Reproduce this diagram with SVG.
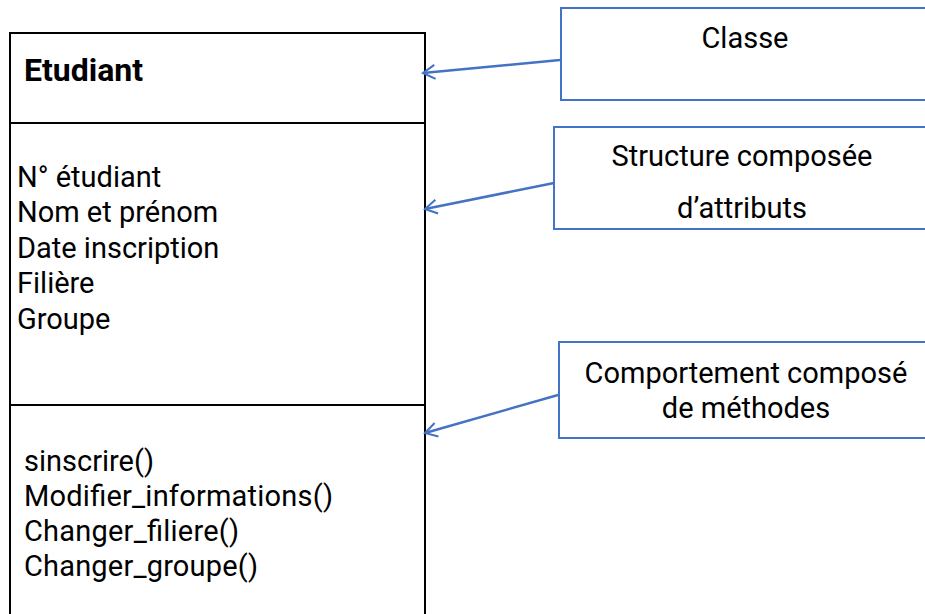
<svg xmlns="http://www.w3.org/2000/svg" width="925" height="614" viewBox="0 0 925 614">
<defs>
<style>
.t{font-family:Roboto,"Liberation Sans",sans-serif;font-size:29px;fill:#000}
.b{font-weight:bold;font-size:32px}
.cls{fill:#fff;stroke:#000;stroke-width:2}
.note{fill:#fff;stroke:#4472C4;stroke-width:2}
.c{fill:none;stroke:#4472C4;stroke-width:2.5}
.m{text-anchor:middle}
</style>
<marker id="ah" markerWidth="16" markerHeight="16" refX="13" refY="8" orient="auto" markerUnits="userSpaceOnUse" overflow="visible">
<path d="M1,1 L13,8 L1,15" fill="none" stroke="#4472C4" stroke-width="2"/>
</marker>
</defs>
<rect width="925" height="614" fill="#fff"/>
<g id="class-etudiant">
<rect class="cls" x="10" y="33" width="415" height="600"/>
<line x1="10" y1="123" x2="425" y2="123" stroke="#000" stroke-width="2"/>
<line x1="10" y1="405" x2="425" y2="405" stroke="#000" stroke-width="2"/>
<text class="t b" x="24" y="81">Etudiant</text>
<text class="t" x="17" y="187">N° étudiant</text>
<text class="t" x="17" y="222">Nom et prénom</text>
<text class="t" x="17" y="258">Date inscription</text>
<text class="t" x="17" y="293">Filière</text>
<text class="t" x="17" y="329">Groupe</text>
<text class="t" x="24" y="471">sinscrire()</text>
<text class="t" x="24" y="506" textLength="309">Modifier_informations()</text>
<text class="t" x="24" y="541" textLength="215">Changer_filiere()</text>
<text class="t" x="24" y="576" textLength="234">Changer_groupe()</text>
</g>
<g id="note-classe">
<rect class="note" x="561" y="8" width="380" height="92"/>
<text class="t m" x="745" y="48">Classe</text>
</g>
<g id="note-structure">
<rect class="note" x="554" y="127" width="387" height="102"/>
<text class="t m" x="742" y="166">Structure composée</text>
<text class="t m" x="742" y="218">d’attributs</text>
</g>
<g id="note-comportement">
<rect class="note" x="559" y="342" width="382" height="96"/>
<text class="t m" x="746" y="383">Comportement composé</text>
<text class="t m" x="746" y="418">de méthodes</text>
</g>
<g id="connectors">
<line class="c" x1="560" y1="60" x2="423" y2="73" marker-end="url(#ah)"/>
<line class="c" x1="554" y1="183" x2="425" y2="209" marker-end="url(#ah)"/>
<line class="c" x1="558" y1="395" x2="425" y2="433" marker-end="url(#ah)"/>
</g>
</svg>
